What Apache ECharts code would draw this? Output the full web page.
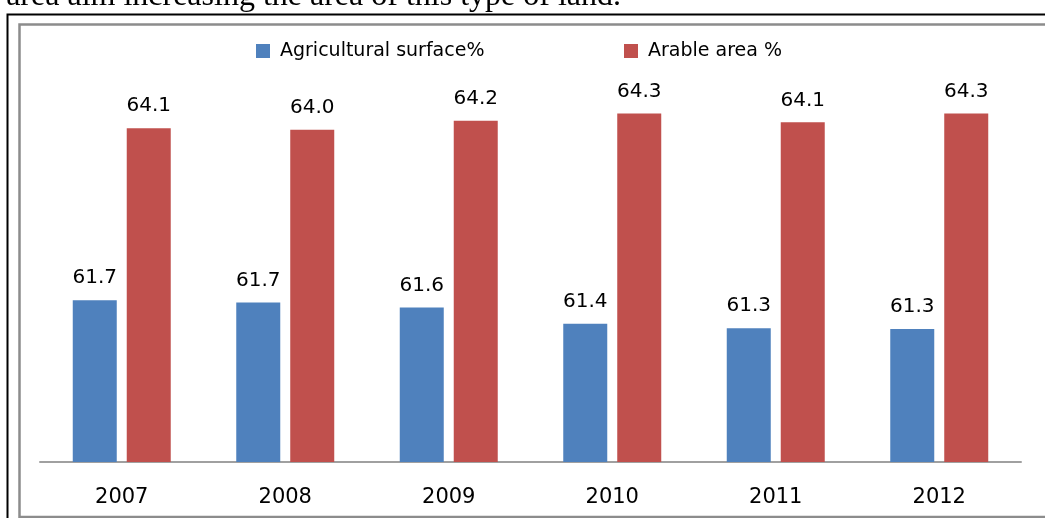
<!DOCTYPE html>
<html>
<head>
<meta charset="utf-8">
<script src="https://cdn.jsdelivr.net/npm/echarts@6/dist/echarts.min.js"></script>
<style>
html,body{margin:0;padding:0;background:#fff;}
#c{width:1045px;height:518px;}
</style>
</head>
<body>
<div id="c"></div>
<script>
const years = ['2007', '2008', '2009', '2010', '2011', '2012'];
const agriculturalSurface = [61.72, 61.69, 61.62, 61.40, 61.34, 61.33];
const arableArea = [64.06, 64.04, 64.16, 64.26, 64.14, 64.26];
const seriesNames = ['Agricultural surface%', 'Arable area %'];
const topText = 'r area aim increasing the area of this type of land.';

const chart = echarts.init(document.getElementById('c'), null, {renderer: 'canvas'});
const font = 'DejaVu Sans';
const labelCfg = {
  show: true,
  position: 'top',
  distance: 12,
  fontFamily: font,
  fontSize: 20,
  lineHeight: 20,
  color: '#000',
  formatter: p => p.value.toFixed(1)
};
const legendText = {fontFamily: font, fontSize: 19, color: '#000', lineHeight: 20, padding: [0, 0, 0, 5]};
chart.setOption({
  animation: false,
  backgroundColor: '#fff',
  graphic: [
    {type: 'text', style: {x: 621, y: 13, text: topText, align: 'right', verticalAlign: 'bottom', font: '32px "Liberation Serif"', fill: '#000'}},
    {type: 'rect', shape: {x: 7.5, y: 14.5, width: 2000, height: 2000}, style: {fill: 'none', stroke: '#000', lineWidth: 2}},
    {type: 'rect', shape: {x: 19.5, y: 24.5, width: 2000, height: 492.5}, style: {fill: 'none', stroke: '#8c8c8c', lineWidth: 2.5}}
  ],
  legend: [
    {data: [seriesNames[0]], left: 256, top: 41, padding: 0, itemWidth: 14, itemHeight: 14, icon: 'rect', textStyle: legendText},
    {data: [seriesNames[1]], left: 624, top: 41, padding: 0, itemWidth: 14, itemHeight: 14, icon: 'rect', textStyle: legendText}
  ],
  grid: {left: 40, right: 24, top: 65, bottom: 56},
  xAxis: {
    type: 'category',
    data: years,
    axisLine: {lineStyle: {color: '#a0a0a0', width: 2}},
    axisTick: {show: false},
    axisLabel: {fontFamily: font, fontSize: 21, lineHeight: 21, color: '#000', margin: 25}
  },
  yAxis: {
    type: 'value',
    min: 59.52,
    max: 64.92,
    show: false,
    splitLine: {show: false}
  },
  series: [
    {name: seriesNames[0], type: 'bar', data: agriculturalSurface, barWidth: 44, barGap: '22.7%',
     itemStyle: {color: '#4F81BD'}, label: labelCfg},
    {name: seriesNames[1], type: 'bar', data: arableArea, barWidth: 44, barGap: '22.7%',
     itemStyle: {color: '#C0504D'}, label: labelCfg}
  ]
});
</script>
</body>
</html>
